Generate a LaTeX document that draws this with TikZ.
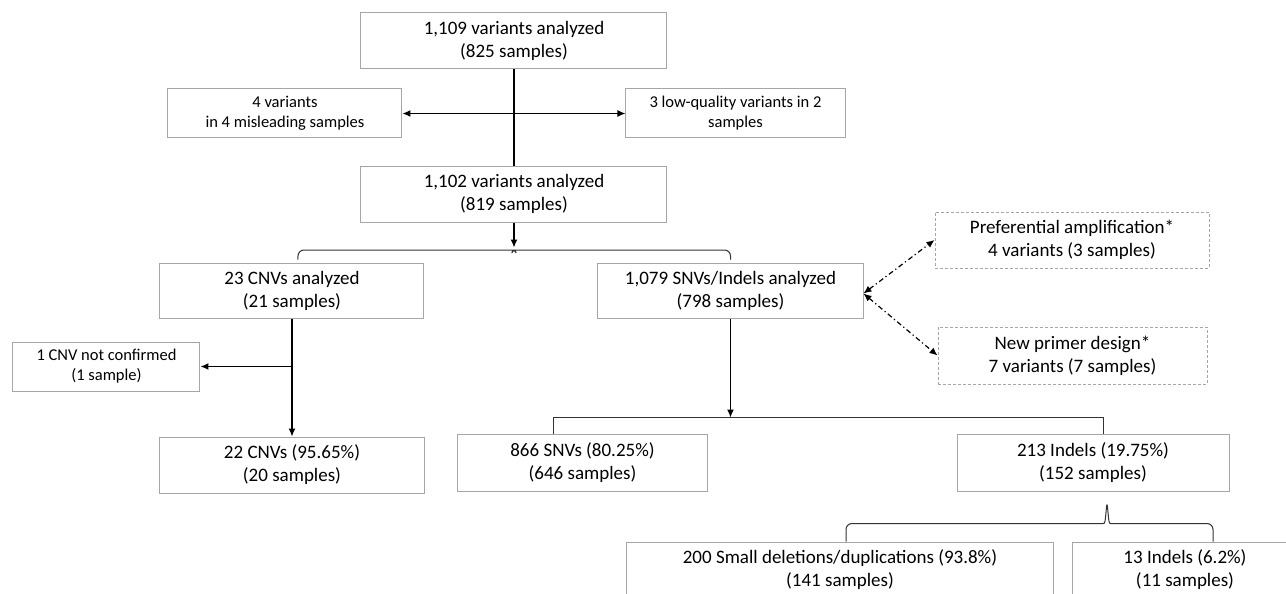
\documentclass[tikz,border=0pt]{standalone}
\usepackage{fontspec}
\setmainfont{Carlito}
\usetikzlibrary{arrows.meta,positioning,calc}

\begin{document}
\begin{tikzpicture}[every node/.style={font=\fontsize{9.5}{11.5}\selectfont},
	box/.style={draw=gray!70, line width=0.5pt, rectangle, align=center, inner sep=0pt, minimum height=28pt},
	smallbox/.style={box, minimum height=24.5pt, font=\fontsize{8.25}{10}\selectfont},
	dashbox/.style={box, dash pattern=on 1.5pt off 1pt},
	link/.style={line width=0.6pt},
	dotlink/.style={link, dash pattern=on 2.5pt off 1.5pt on 0.6pt off 1.5pt},
	splitline/.style={draw=black!80, line width=0.5pt},
	>={Latex[length=4pt,width=3.5pt]}]
					\useasboundingbox (-257pt,20.5pt) rectangle (386pt,-276.5pt);
					\clip (-257pt,20.5pt) rectangle (386pt,-276.5pt);
					\node[box, minimum width=153pt] (root) at (0,0) {1,109 variants analyzed\\(825 samples)};
					\node[smallbox, minimum width=117pt] (lft) [node distance=36.25pt, below of=root, xshift=-114.5pt] {4 variants\\in 4 misleading samples};
					\node[smallbox, minimum width=109.5pt] (rgt) [node distance=36.25pt, below of=root, xshift=110.75pt] {3 low-quality variants in 2\\samples};
					\node[box, minimum width=153pt] (mid) [node distance=76.5pt, below of=root] {1,102 variants analyzed\\(819 samples)};
					\node[box, minimum width=132pt, minimum height=27.5pt] (cnv) [node distance=48.25pt, below of=mid, xshift=-111pt] {23 CNVs analyzed\\(21 samples)};
					\node[box, minimum width=132.5pt, minimum height=27.5pt] (snv) [node distance=48.25pt, below of=mid, xshift=108.25pt] {1,079 SNVs/Indels analyzed\\(798 samples)};
					\node[dashbox, minimum width=137pt] (pref) [node distance=170.75pt, right of=snv, yshift=25.25pt] {Preferential amplification*\\4 variants (3 samples)};
					\node[dashbox, minimum width=134.5pt, minimum height=28.5pt] (primer) [node distance=171pt, right of=snv, yshift=-32.5pt] {New primer design*\\7 variants (7 samples)};
					\node[smallbox, minimum width=93.5pt] (nocnv) [node distance=38pt, below of=cnv, xshift=-92.75pt] {1 CNV not confirmed\\(1 sample)};
					\node[box, minimum width=132.5pt] (cnvok) [node distance=87.25pt, below of=cnv] {22 CNVs (95.65\%)\\(20 samples)};
					\node[box, minimum width=124.5pt, minimum height=28.5pt] (snvok) [node distance=86pt, below of=snv, xshift=-74pt] {866 SNVs (80.25\%)\\(646 samples)};
					\node[box, minimum width=136pt, minimum height=28.5pt] (indel) [node distance=86pt, below of=snv, xshift=181.25pt] {213 Indels (19.75\%)\\(152 samples)};
					\node[box, minimum width=213pt] (deldup) [node distance=53.75pt, below of=indel, xshift=-126.5pt] {200 Small deletions/duplications (93.8\%)\\(141 samples)};
					\node[box, minimum width=113pt] (indelsub) [node distance=53.75pt, below of=indel, xshift=46pt] {13 Indels (6.2\%)\\(11 samples)};
					% filtering step
					\draw[link] (root) -- (mid);
					\draw[link,<->] (lft) -- (rgt);
					\coordinate (split1) at ([yshift=-12.5pt]mid.south);
					\draw[link,->] (mid) -- (split1);
					\draw[splitline, rounded corners=3pt] ([xshift=3pt,yshift=1.5pt]cnv.north) |- ([xshift=-3pt,yshift=-1.25pt]split1) .. controls ([xshift=-0.5pt,yshift=-1.25pt]split1) .. (split1) .. controls ([xshift=0.5pt,yshift=-1.25pt]split1) .. ([xshift=3pt,yshift=-1.25pt]split1) -| ([yshift=1.5pt]snv.north);
					% CNV branch
					\draw[link,->] (cnv) -- (cnvok);
					\draw[link,->] (cnv.south |- nocnv.east) -- (nocnv);
					% SNV/Indel branch
					\coordinate (split2) at ([yshift=-49.5pt]snv.south);
					\draw[link,->] (snv) -- (split2);
					\draw[splitline] ([xshift=-14.25pt]snvok.north) |- (split2) -| ([xshift=5pt]indel.north);
					\draw[dotlink,<->] ([yshift=-1.5pt]snv.east) -- (pref.west);
					\draw[dotlink,<->] ([yshift=-1.5pt]snv.east) -- (primer.west);
					% Indel split
					\coordinate (split3) at ([xshift=7pt,yshift=-5pt]indel.south);
					\draw[splitline, rounded corners=3pt] ([xshift=3pt]deldup.north) |- ([xshift=-5pt,yshift=-11pt]split3) .. controls ([xshift=-1pt,yshift=-11pt]split3) .. (split3) .. controls ([xshift=1pt,yshift=-11pt]split3) .. ([xshift=5pt,yshift=-11pt]split3) -| ([xshift=14pt]indelsub.north);
				\end{tikzpicture}
\end{document}
